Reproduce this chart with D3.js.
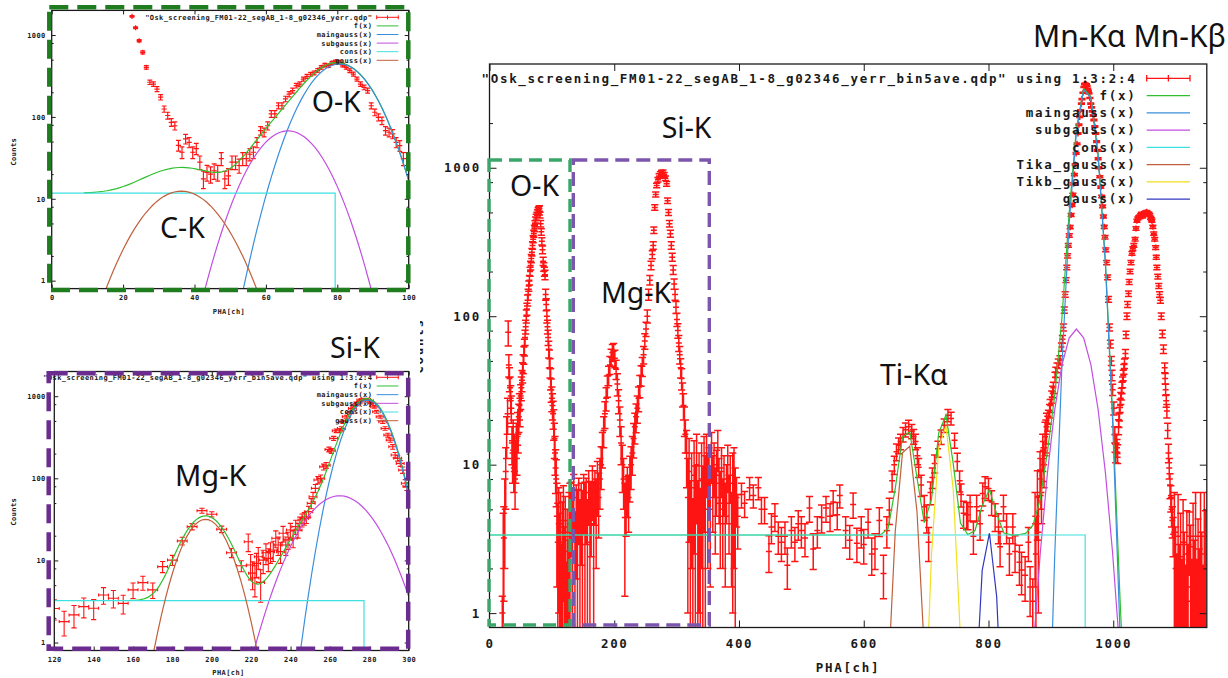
<!DOCTYPE html>
<html><head><meta charset="utf-8">
<script src="https://cdn.jsdelivr.net/npm/d3@7"></script>
<style>
body{margin:0;background:#fff;}
svg{display:block;}
</style></head><body>
<svg id="c" width="1228" height="678"></svg>
<script>
// ---------- DATA ----------
// Panel A (top-left, O-K / C-K): [PHA ch, counts, y error]
const aData = [[22.5,1690,41],[23.5,1228,35],[24.5,852,29],[25.5,615,25],[26.5,403,20],[27.5,265,16],[28.5,252,16],[29.5,219,15],[30.5,174,13],[31.5,125,11],[32.5,104,10],[33.5,86,9.3],[34.5,78,8.8],[35.5,45,6.7],[36.5,37,6.1],[37.5,54,7.3],[38.5,49,7],[39.5,37,6.1],[40.5,41,6.4],[41.5,28,5.3],[42.5,17.5,4.2],[43.5,21,4.6],[44.5,20,4.5],[45.5,22,4.7],[46.5,21,4.6],[47.5,31,5.6],[48.5,17.5,4.2],[49.5,19,4.4],[50.5,28,5.3],[51.5,28,5.3],[52.5,25.5,5],[53.5,31,5.6],[54.5,31,5.6],[55.5,35,5.9],[56.5,37,6.1],[57.5,49,7],[58.5,68,8.2],[59.5,65,8.1],[60.5,78,8.8],[61.5,109,10.4],[62.5,109,10.4],[63.5,137,11.7],[64.5,137,11.7],[65.5,166,12.9],[66.5,190,13.8],[67.5,210,14.5],[68.5,241,15.5],[69.5,252,15.9],[70.5,290,17],[71.5,313,17.7],[72.5,332,18.2],[73.5,345,18.6],[74.5,371,19.3],[75.5,403,20],[76.5,430,20.7],[77.5,422,20.5],[78.5,456,21.4],[79.5,473,21.7],[80.5,465,21.6],[81.5,430,20.7],[82.5,403,20],[83.5,367,19.2],[84.5,334,18.3],[85.5,290,17],[86.5,252,15.9],[87.5,230,15.2],[88.5,210,14.5],[89.5,137,11.7],[90.5,114,10.7],[91.5,99,9.9],[92.5,90,9.5],[93.5,68,8.2],[94.5,65,8.1],[95.5,62,7.9],[96.5,49,7],[97.5,44.6,6.7],[98.5,31,5.6],[99.5,31,5.6]];
// Panel A fit components [amplitude, centre, sigma]
const aMain = [443, 80.6, 7.57];
const aSub = [67.6, 66.2, 7.8];
const aGauss = [12.4, 36.3, 9.0];
const aCons = [11.7, 79.4];      // level, end channel

// Panel B (bottom-left, Mg-K / Si-K)
const bCoarse = [[120,2.6,0.72],[125,1.8,0.6],[130,2.17,0.66],[135,2.74,0.74],[140,2.62,0.72],[145,3.8,0.87],[150,3.47,0.83],[155,3.0,0.77],[160,4.38,0.94],[165,5.37,1.04],[170,4.38,0.94],[175,8.4,1.3],[180,10.1,1.42],[185,17.3,1.86],[190,25.8,2.27],[195,40.4,2.84],[200,36.5,2.7],[205,24,2.19],[210,12.4,1.57],[215,8.6,1.31]];
const bFine = [[218.5,16.9,4.1],[219.7,8.8,3],[220.7,7,2.6],[221.9,6.1,2.5],[222.7,9.2,3],[223.6,11.1,3.3],[224.8,5.4,2.3],[226.1,10.1,3.2],[227.5,12.4,3.5],[228.7,10.6,3.3],[229.8,12.8,3.6],[231.2,13.4,3.7],[232.5,18.6,4.3],[233.7,15.4,3.9],[234.9,12.8,3.6],[236.2,21.4,4.6],[237.6,15.4,3.9],[238.7,17.8,4.2],[239.9,23.5,4.8],[241.3,18.6,4.3],[242.6,25.8,5.1],[243.8,23.5,4.8],[244.7,28.4,5.3],[245.8,31.1,5.6],[247,32.5,5.7],[248,34,5.8],[249.2,39.3,6.3],[250.5,49.6,7],[251.4,59.7,7.7],[252.6,75.5,8.7],[253.9,95.3,9.8],[255.3,100,10],[256.8,138,11.7],[258.1,144,12],[259.5,225,15],[260.7,216,14.7],[261.9,307,17.5],[263.2,380,19.5],[264.6,380,19.5],[265.8,405,20.1],[266.6,488,22.1],[268.3,563,23.7],[270,629,25.1],[271.4,710,26.6],[272.8,780,27.9],[274.3,832,28.8],[275.7,897,30],[277.2,910,30.2],[278.6,910,30.2],[280,880,29.7],[281.2,817,28.6],[282.5,743,27.3],[283.7,646,25.4],[285.5,563,23.7],[286.8,488,22.1],[288,405,20.1],[289.4,336,18.3],[290.6,292,17.1],[291.9,242,15.6],[293.1,192,13.9],[294.4,175,13.2],[295.7,152,12.3],[296.9,126,11.2],[298.3,87,9.3],[299.1,80,8.9]];
const bMain = [897, 279.0, 9.06];
const bSub = [61.4, 264.9, 14.76];
const bGauss = [31.7, 196.8, 9.66];
const bCons = [3.24, 277.3];

// Panel R (right, full spectrum)
const rOK = [[20.5,1.0,0.3],[22,2.0,2.7],[23,3.2,2],[24.5,5,3],[26,9,4],[27.5,16,5],[29,22,6],[30,78,15],[31,47,8],[32,38,7],[33,33,6],[34,28,6],[35,24,5],[36,14,4],[37,11,3.5],[38,16,4],[39,9.5,3],[40,12.5,3.5],[41,8,3],[42,11,3.5],[43,15,4],[44,12,3.5],[45,18,4.5],[46,16,4],[47,21,4.5],[48,25,5],[49,23,5],[50,29,5.5],[51,33,6],[52,37,6],[53,42,6.5],[54,48,7],[55,55,7.5],[56,62,8],[57,72,8.5],[58,85,9],[59,100,10],[60,112,10.5],[61,128,11],[62,140,12],[63,160,12.5],[64,175,13],[65,200,14],[66,220,15],[67,245,15.5],[68,270,16],[69,300,17],[70,330,18],[71,360,19],[72,390,19.5],[73,420,20],[74,445,21],[75,465,21.5],[76,480,22],[77,500,22],[78,515,23],[79,525,23],[80,532,23],[81,480,22],[82,420,20.5],[83,370,19],[84,320,18],[85,280,17],[86,235,15],[87,215,14.5],[88,200,14],[89,190,14],[90,140,12],[91,120,11],[92,100,10],[93,85,9],[94,72,8.5],[95,60,7.7],[96,52,7.2],[97,45,6.7],[98,38,6.2],[99,32,5.7],[100,28,5.3],[101,25,5],[102,22,4.7],[103,19,4.4],[104,15,4],[105,12,3.5],[106,9.5,3.1],[107,8,2.8]];
const rLow = [[108,4.5,3],[109.5,3,2.5],[111,4,3],[112.5,2.5,2.2],[114,3.5,3],[115.5,1.5,1.4],[117,3,2.6],[118.5,4.2,3],[120,2,1.8],[121.5,3.3,2.8],[123,1.2,1],[124.5,2.6,2.4],[126,1.6,1.5],[127.5,3.5,3],[129,4,3.5],[131,5,2.6],[133,3.5,3.2],[135,6,2.6],[137,2.5,2.3],[139,4.5,2.8],[141,3.5,3.3],[143,5.5,2.6],[145,3,2.8],[147,4.8,2.7],[149,3.5,3.2],[151,6,2.6],[153,4,3.6],[155,5.5,2.6],[157,3,2.8],[159,6.5,2.6],[161,4,3.7],[163,5,2.6],[165,7,2.8],[167,4,3.7],[169,6.5,2.6],[171,5,3],[173,7.5,3],[175,6,2.8]];
const rMgSi = [[177,8,3],[179,10,3.2],[181,13,3.5],[183,17,4],[185,22,4.5],[187,28,5],[189,34,5.5],[191,40,6],[193,47,6.5],[195,53,7],[197,57,7.5],[199,58,7.5],[201,52,7],[203,44,6.5],[205,35,6],[207,27,5],[209,20,4.5],[211,14,4],[213,10,3.5],[215,8,3],[217,4.4,3.1],[219,5.8,2.5],[221,7,2.6],[223,6,2.5],[225,8.5,2.9],[227,10,3.2],[229,12,3.5],[231,15,3.9],[233,18,4.2],[235,21,4.6],[237,24,5],[239,28,5.3],[241,34,5.8],[243,40,6.3],[245,46,6.8],[247,55,7.4],[249,68,8.2],[251,82,9],[253,100,10],[255,140,11.8],[257,175,13],[259,220,14.8],[261,260,16],[262.5,300,17],[263.5,380,19.5],[265,540,23],[266.5,660,25.7],[268,760,27.5],[270,830,28.8],[272,880,29.6],[274,910,30],[276,930,30.5],[278,935,30.5],[280,900,30],[282,850,29],[284,780,28],[285.5,600,24.5],[287,500,22.4],[288.5,420,20.5],[290,360,19],[291.5,300,17.3],[293,250,15.8],[294.5,205,14.3],[296,165,12.8],[297.5,140,11.8],[299,115,10.7],[300.5,95,9.7],[302,80,9],[303.5,66,8.1],[305,55,7.4],[306.5,45,6.7],[308,38,6.2],[309.5,30,5.5],[311,25,5],[312.5,20,4.5],[314,16,4]];
const rNoise = [[316,12,5],[318,6,5],[320,9,6],[322,4,3.8],[324,7,5],[326,3,2.9],[328,8.5,6],[330,5,4.8],[332,10,6],[334,4,3.8],[336,6.5,5.5],[338,3.5,3.4],[340,8,6],[342,5,4.8],[344,9.5,6],[346,6,5.5],[348,11,5],[350,7,5],[352,9,4],[354,5,3.5],[356,12,4.5],[358,7.5,4],[360,10,4],[362,6,3.5],[364,8.5,4],[366,13,4],[368,7.5,3.5],[370,5.5,3.5],[372,9.5,3.5],[374,5,3],[376,8,3.5],[378,4.5,3],[380,7,3],[382,10,3.5],[384,5.5,3],[386,8.5,3],[388,4,2.5],[390,6.5,5.5],[392,7.5,5.5],[394,5,4.5],[396,6,2.2],[398,4.5,1.8]];
const rMid = [[404,6.3,1.2],[409,5.5,1.1],[417,7.0,1.2],[423,6.2,1.1],[431,7.0,1.2],[436,5.0,1.0],[441,5.0,1.0],[448,2.6,0.72],[452,3.8,0.87],[457.6,4.5,0.95],[463,3.3,0.81],[468,3.0,0.77],[473.7,3.3,0.81],[477.5,2.1,0.65],[484,3.6,0.85],[489.6,3.0,0.77],[495,4.0,0.9],[500,3.6,0.85],[505.8,3.2,0.8],[513,5.1,1.0],[519,2.7,0.73],[525.6,3.6,0.85],[532.5,4.4,0.94],[539.5,5.1,1.0],[546,4.5,0.95],[551,5.6,1.06],[557.5,4.6,0.96],[561.6,6.2,1.1],[571,3.6,0.85],[577.5,3.1,0.79],[583,5.4,1.04],[589,2.96,0.77],[596,3.6,0.85],[600,2.9,0.76],[607,4.1,0.9],[612.8,2.5,0.7],[618,2.7,0.73],[625,4.2,0.92],[631.6,1.85,0.6]];
const rTi = [[637,3.6,0.85],[641,4.95,1.0],[645.5,7.8,1.25],[649,10,1.4],[652.5,12.2,1.56],[656,13.5,1.64],[659,14.3,1.7],[663,16,1.8],[667,17.2,1.85],[672,18,1.9],[677,16.8,1.83],[680,15.5,1.76],[683,14.3,1.7],[686,11.5,1.5],[688,9.6,1.4],[692,7.3,1.2],[697,5.2,1.0],[701,4.4,0.94],[704,3.0,0.77],[707,6.5,1.14],[710,8.2,1.28],[713.6,10.2,1.43],[719,12.8,1.6],[724,15.4,1.75],[729,18.4,1.92],[735,21.5,2.07],[740,20.5,2.02],[745.6,14.6,1.7],[750,10.5,1.45],[753.7,7.8,1.25],[756,6.3,1.12],[760,4.7,0.97],[765,4.6,0.96],[767,4.6,0.96],[770.5,5.2,1.02],[775.8,3.3,0.81],[781,5.2,1.02],[786.5,4.0,0.9],[790.7,6.4,1.13],[794.5,7.1,1.19],[800,6.9,1.17],[805,5.6,1.06],[810.6,4.5,0.95],[816,3.8,0.87],[818.6,2.8,0.75],[824,5.2,1.02],[829,3.8,0.87],[833.5,2.5,0.7],[839,3.8,0.87],[842.6,2.6,0.72],[849.6,2.2,0.66],[853,1.95,0.62],[858.7,1.8,0.6],[864,3.0,0.77],[866.7,1.5,0.55],[871,1.2,0.5]];
const rMn = [[874.7,4.0,2.5],[876,2.5,2],[878.4,6.1,3],[880,3.5,2.5],[882.6,9.2,3],[885,6.5,2.5],[887,12.5,3.5],[889,10,3],[890.7,15.4,3.9],[893,18,4.2],[896,21,2.3],[899,25,2.5],[901.4,28.6,2.7],[904,33,2.9],[906.7,38.8,3.1],[910,45,3.4],[914.6,50.6,3.6],[917,62,3.9],[920,84,4.6],[923,140,5.9],[925.6,213,7.3],[928,300,8.7],[931,398,10],[934,560,11.8],[936.6,780,14],[939,1050,16.2],[942,1450,19],[945,1950,22],[947.6,2430,24.6],[950,2900,27],[953,3500,29.6],[955,3700,30.4],[957,3650,30],[959,3400,29],[961,3170,28],[964,2700,26],[966.5,2400,24.5],[969,2100,23],[972,1700,20.6],[974.5,1310,18],[977,1000,15.8],[980,740,13.6],[983,550,11.7],[985.6,400,10],[988,280,8.4],[991,183,6.8],[994,84,4.6],[997,50,3.5],[999,32,2.8],[1001,24,2.4],[1002.5,16,2],[1004,12,1.7],[1005.5,14,1.9],[1007,11.9,1.7],[1008.5,18,2.1],[1010,22,2.3],[1012,28,2.6],[1014,33,2.9],[1016,40,3.2],[1018,48,3.5],[1019.5,56,3.7],[1022,100,5],[1024.5,142,6],[1027,200,7],[1030,265,8],[1033,300,8.7],[1035,330,9],[1038,440,10.5],[1041,465,10.8],[1044,480,11],[1047,470,10.8],[1050,490,11],[1053.7,505,11.2],[1057,490,11],[1060,460,10.7],[1062,440,10.5],[1065,360,9.5],[1068,290,8.5],[1070,213,7.3],[1073,160,6.3],[1075.6,128,5.7],[1078.8,76,4.4],[1082.5,45,3.4],[1084,32,2.8],[1086,23,2.4],[1088.6,12,1.7],[1091,7.3,1.4],[1093.5,5,1.2],[1096,3.4,1]];
// additional points read on the steep Mn flanks
const rMnFlank = [[884,8,3],[888,11,3.3],[892,16,4],[895,19,2.2],[898,23,2.4],[903,31,2.8],[908,42,3.3],[912,48,3.5],[918.5,70,4.2],[921.5,110,5.2],[924.3,175,6.6],[926.8,255,8],[929.5,350,9.4],[932.5,480,11],[935.3,660,12.8],[937.8,900,15],[940.5,1250,17.7],[943.5,1700,20.6],[946.3,2200,23.5],[949,2700,26],[951.5,3200,28.3],[954,3650,30],[958,3550,29.8],[960,3300,28.7],[962.5,2950,27.2],[965.3,2550,25],[967.8,2250,23.7],[970.5,1900,21.8],[973.3,1500,19.4],[975.8,1150,17],[978.5,870,14.7],[981.5,640,12.6],[984.3,470,10.8],[986.8,340,9.2],[989.5,230,7.6],[992.5,130,5.7],[995.5,65,4],[998,40,3.2],[1003,14,1.9],[1006,13,1.8],[1009,20,2.2],[1011,25,2.5],[1013,30,2.7],[1015,36,3],[1017,44,3.3],[1020.5,75,4.3],[1023,120,5.5],[1025.5,170,6.5],[1028.5,230,7.6],[1031.5,285,8.4],[1036.5,390,9.9],[1039.5,455,10.7],[1042.5,470,10.8],[1045.5,490,11],[1048.5,480,11],[1052,500,11.2],[1055.5,495,11.1],[1058.5,480,11],[1061,450,10.6],[1063.5,400,10],[1066.5,330,9.1],[1069,250,7.9],[1071.5,185,6.8],[1074.3,140,5.9],[1077,100,5],[1080.5,60,3.9],[1083.2,38,3.1],[1085,27,2.6],[1087.3,17,2],[1089.8,9.5,1.5],[1092.3,6,1.2],[1094.8,4.2,1.0]];
const rTail = [[1098,3.5,3],[1100,2.0,1.8],[1102,1.3,1.2],[1104,3.3,3],[1106,1.5,1.4],[1108,2.4,2.3],[1110,1.2,1.1],[1112,3.0,2.8],[1114,1.8,1.7],[1116,1.1,1],[1118,2.5,2.4],[1120,1.5,1.4],[1122,3.3,1.5],[1124,2.0,1.9],[1126,1.2,1.1],[1128,2.8,2.7],[1130,1.6,1.5],[1132,3.3,3.2],[1134,1.2,1.1],[1136,2.2,2.1],[1138,1.4,1.3],[1140,3.3,3.2],[1142,1.8,1.7],[1144,1.1,1],[1146,3.3,3.2],[1148,2.5,2.4]];
const rMain = [3500, 956.5, 13.2];
const rSub = [82, 941, 22];
const rTika = [14.6, 669, 11];
const rTikb = [19, 729, 10.1];
const rGauss = [3.5, 800, 9.3];
const rCons = [3.36, 955];

// tick labels
const aXT = [0,20,40,60,80,100];
const bXT = [120,140,160,180,200,220,240,260,280,300];
const rXT = [0,200,400,600,800,1000];
const yMajor = [1,10,100,1000];
const yMinor = [2,5,8,20,50,80,200,500,800,2000];

const legendA = ['"Osk_screening_FM01-22_segAB_1-8_g02346_yerr.qdp"','f(x)','maingauss(x)','subgauss(x)','cons(x)','gauss(x)'];
const legendB = ['"Osk_screening_FM01-22_segAB_1-8_g02346_yerr_bin5ave.qdp" using 1:3:2:4','f(x)','maingauss(x)','subgauss(x)','cons(x)','gauss(x)'];
const legendR = ['"Osk_screening_FM01-22_segAB_1-8_g02346_yerr_bin5ave.qdp" using 1:3:2:4','f(x)','maingauss(x)','subgauss(x)','cons(x)','Tika_gauss(x)','Tikb_gauss(x)','gauss(x)'];

const C = {data:"#ff1414", f:"#2ec02e", main:"#3a8fdc", sub:"#c24ee0", cons:"#3ee0e0", tika:"#c0603c", tikb:"#f0e020", gauss:"#3038c0"};

// ---------- DRAWING ----------
const svg = d3.select("#c");
svg.append("rect").attr("width",1228).attr("height",678).attr("fill","#fff");
const defs = svg.append("defs");
const G = (p, v) => p[0]*Math.exp(-((v-p[1])**2)/(2*p[2]*p[2]));

function makePanel(cfg){
  const x = d3.scaleLinear().domain(cfg.xd).range([cfg.L, cfg.R]);
  const y = d3.scaleLog().domain(cfg.yd).range([cfg.B, cfg.T]);
  const id = "clip-"+cfg.id;
  defs.append("clipPath").attr("id", id).append("rect")
    .attr("x", cfg.L).attr("y", cfg.T).attr("width", cfg.R-cfg.L).attr("height", cfg.B-cfg.T);
  const g = svg.append("g");
  const plot = g.append("g").attr("clip-path", `url(#${id})`);
  return {x, y, g, plot, cfg};
}
function font(sel, cfg){
  sel.attr("font-family","'DejaVu Sans Mono', monospace").attr("font-weight","bold")
     .attr("font-size", cfg.fs).style("letter-spacing", cfg.ls+"px").attr("color","#1a1a1a").attr("fill","#1a1a1a");
}
function axes(P){
  const {x,y,g,cfg} = P;
  const clean = s => s.select(".domain").remove();
  const minor = yMinor.filter(v => v > cfg.yd[0] && v < cfg.yd[1]);
  g.append("g").attr("transform",`translate(${cfg.L},0)`)
    .call(d3.axisLeft(y).tickValues(yMajor).tickFormat(d3.format("d")).tickSizeInner(-cfg.maj).tickSizeOuter(0).tickPadding(cfg.ypad))
    .call(clean).call(s => font(s, cfg));
  g.append("g").attr("transform",`translate(${cfg.L},0)`)
    .call(d3.axisLeft(y).tickValues(minor).tickFormat("").tickSizeInner(-cfg.mnr).tickSizeOuter(0))
    .call(clean).attr("color","#1a1a1a");
  g.append("g").attr("transform",`translate(${cfg.R},0)`)
    .call(d3.axisRight(y).tickValues(yMajor).tickFormat("").tickSizeInner(-cfg.maj).tickSizeOuter(0))
    .call(clean).attr("color","#1a1a1a");
  g.append("g").attr("transform",`translate(${cfg.R},0)`)
    .call(d3.axisRight(y).tickValues(minor).tickFormat("").tickSizeInner(-cfg.mnr).tickSizeOuter(0))
    .call(clean).attr("color","#1a1a1a");
  g.append("g").attr("transform",`translate(0,${cfg.B})`)
    .call(d3.axisBottom(x).tickValues(cfg.xt).tickFormat(d3.format("d")).tickSizeInner(-cfg.maj).tickSizeOuter(0).tickPadding(cfg.xpad))
    .call(clean).call(s => font(s, cfg));
  g.append("g").attr("transform",`translate(0,${cfg.T})`)
    .call(d3.axisTop(x).tickValues(cfg.xt).tickFormat("").tickSizeInner(-cfg.maj).tickSizeOuter(0))
    .call(clean).attr("color","#1a1a1a");
  g.append("rect").attr("x",cfg.L).attr("y",cfg.T).attr("width",cfg.R-cfg.L).attr("height",cfg.B-cfg.T)
    .attr("fill","none").attr("stroke","#1a1a1a").attr("stroke-width",1.3);
  g.append("text").attr("x",cfg.xlab[0]).attr("y",cfg.xlab[1]).attr("dy","0.35em").attr("text-anchor","middle")
    .call(s=>font(s,cfg)).text("PHA[ch]");
  const yl = g.append("g");
  if (cfg.ylabClip) {
    defs.append("clipPath").attr("id","ylc-"+cfg.id).append("rect").attr("x",cfg.ylabClip).attr("y",0).attr("width",100).attr("height",678);
    yl.attr("clip-path",`url(#ylc-${cfg.id})`);
  }
  yl.append("text").attr("transform",`translate(${cfg.ylab[0]},${cfg.ylab[1]}) rotate(-90)`).attr("dy","0.35em")
    .attr("text-anchor","middle").call(s=>font(s,cfg)).text("Counts");
}
function points(P, data, o){
  const {x,y,cfg} = P;
  let d = "";
  const below = cfg.B + 40;
  for (const [xv,yv,e] of data){
    const px = x(xv), py = y(yv);
    const hi = y(yv+e);
    const lo = (yv-e) > 0.05 ? y(yv-e) : below;
    d += `M${px},${hi}V${lo}M${px-o.cap},${hi}h${2*o.cap}`;
    if (lo < below) d += `M${px-o.cap},${lo}h${2*o.cap}`;
    if (o.dx){
      const x0 = x(xv-o.dx), x1 = x(xv+o.dx);
      d += `M${x0},${py}H${x1}M${x0},${py-o.xcap}v${2*o.xcap}M${x1},${py-o.xcap}v${2*o.xcap}`;
    }
    d += `M${px-o.m},${py}h${2*o.m}M${px},${py-o.m}v${2*o.m}`;
  }
  P.plot.append("path").attr("d",d).attr("fill","none").attr("stroke",C.data).attr("stroke-width",o.sw);
}
function curve(P, fn, x0, x1, n, color, sw){
  const pts = d3.range(n).map(i => { const v = x0 + i*(x1-x0)/(n-1); return [v, Math.max(fn(v), 1e-30)]; });
  P.plot.append("path").attr("d", d3.line().x(d=>P.x(d[0])).y(d=>P.y(d[1]))(pts))
    .attr("fill","none").attr("stroke",color).attr("stroke-width",sw||1.2);
}
function consLine(P, c, x0, sw){
  const pts = [[x0, c[0]],[c[1], c[0]],[c[1], 0.01]];
  P.plot.append("path").attr("d", d3.line().x(d=>P.x(d[0])).y(d=>P.y(d[1]))(pts))
    .attr("fill","none").attr("stroke",C.cons).attr("stroke-width",sw||1.2);
}
function legend(P, labels, colors, L){
  labels.forEach((t,i)=>{
    const yy = L.y0 + i*L.dy;
    P.g.append("text").attr("x",L.tx).attr("y",yy).attr("dy","0.35em").attr("text-anchor","end")
      .call(s=>font(s,P.cfg)).text(t);
    if (i===0){
      const h = L.cap;
      P.g.append("path").attr("d",`M${L.s0},${yy}H${L.s1}M${L.s0},${yy-h}v${2*h}M${L.s1},${yy-h}v${2*h}M${(L.s0+L.s1)/2},${yy-h}v${2*h}`)
        .attr("stroke",C.data).attr("stroke-width",L.sw).attr("fill","none");
    } else {
      P.g.append("line").attr("x1",L.s0).attr("x2",L.s1).attr("y1",yy).attr("y2",yy)
        .attr("stroke",colors[i]).attr("stroke-width",L.sw);
    }
  });
}
function dashRect(r, color, w, dash){
  svg.append("rect").attr("x",r[0]).attr("y",r[1]).attr("width",r[2]).attr("height",r[3])
    .attr("fill","none").attr("stroke",color).attr("stroke-width",w).attr("stroke-dasharray",dash);
}
function ann(t, x, y, size){
  svg.append("text").attr("x",x).attr("y",y).attr("font-family","'Noto Sans','Open Sans',sans-serif")
    .attr("font-size",size).attr("fill","#111").text(t);
}

// ---- Panel A ----
const A = makePanel({id:"A", xd:[0,100], yd:[0.8,2000], L:51.7, R:408.7, T:10.4, B:288.6,
  fs:7, ls:0.42, maj:4, mnr:2, ypad:6, xpad:6.5, xt:aXT, xlab:[229,311.5], ylab:[13.5,151.7]});
axes(A);
points(A, aData, {cap:2.4, m:2.6, sw:1.2});
curve(A, v => aCons[0]*(v<aCons[1]?1:0) + G(aGauss,v) + G(aSub,v) + G(aMain,v), 9, 100, 100, C.f);
curve(A, v => G(aMain,v), 0, 100, 100, C.main);
curve(A, v => G(aSub,v), 0, 100, 100, C.sub);
consLine(A, aCons, 0);
curve(A, v => G(aGauss,v), 0, 100, 100, C.tika);
legend(A, legendA, [null,C.f,C.main,C.sub,C.cons,C.tika], {tx:372.3, y0:17.3, dy:8.6, s0:376.7, s1:398.3, cap:2, sw:1});

// ---- Panel B ----
const B = makePanel({id:"B", xd:[120,300], yd:[0.8,2000], L:54.3, R:408.7, T:371.5, B:650.5,
  fs:7, ls:0.42, maj:4, mnr:2, ypad:8.6, xpad:6.5, xt:bXT, xlab:[228.5,672.7], ylab:[13.5,511.7]});
axes(B);
points(B, bCoarse, {cap:2.6, m:1.8, sw:1.1, dx:2.5, xcap:1.5});
points(B, bFine, {cap:2.6, m:1.8, sw:1.1, dx:2, xcap:1.5});
curve(B, v => bCons[0]*(v<bCons[1]?1:0) + G(bGauss,v) + G(bSub,v) + G(bMain,v), 157.6, 300, 100, C.f);
curve(B, v => G(bMain,v), 120, 300, 100, C.main);
curve(B, v => G(bSub,v), 120, 300, 100, C.sub);
consLine(B, bCons, 120);
curve(B, v => G(bGauss,v), 120, 300, 100, C.tika);
legend(B, legendB, [null,C.f,C.main,C.sub,C.cons,C.tika], {tx:372.3, y0:377.3, dy:8.68, s0:376.7, s1:398.3, cap:2, sw:1});

// ---- Panel R ----
const R = makePanel({id:"R", xd:[0,1150], yd:[0.8,5000], L:489.5, R:1206.8, T:64, B:627.5,
  fs:12.5, ls:1.7, maj:7, mnr:3.5, ypad:8.6, xpad:12, xt:rXT, xlab:[848,668], ylab:[419,346], ylabClip:420});
axes(R);
[rOK, rLow, rMgSi, rNoise, rMid, rTi, rMn, rMnFlank, rTail].forEach(s => points(R, s, {cap:3.6, m:3, sw:1.5, dx:2.5, xcap:0}));
const rF = v => rCons[0]*(v<rCons[1]?1:0) + G(rMain,v) + G(rSub,v) + G(rTika,v) + G(rTikb,v) + G(rGauss,v);
curve(R, rF, 0, 1150, 100, C.f);
curve(R, v => G(rMain,v), 0, 1150, 100, C.main);
curve(R, v => G(rSub,v), 0, 1150, 100, C.sub);
consLine(R, rCons, 0);
curve(R, v => G(rTika,v), 0, 1150, 100, C.tika);
curve(R, v => G(rTikb,v), 0, 1150, 100, C.tikb);
curve(R, v => G(rGauss,v), 0, 1150, 100, C.gauss);
legend(R, legendR, [null,C.f,C.main,C.sub,C.cons,C.tika,C.tikb,C.gauss], {tx:1136.5, y0:78.3, dy:17.25, s0:1146.7, s1:1190, cap:3.3, sw:1.3});

// ---- highlight boxes ----
dashRect([49.3,7.3,359,282.7], "#1f7d1f", 4.5, "19 9");
dashRect([48.7,373.3,359.5,275.5], "#6a2c8e", 4.5, "19 9");
dashRect([489,160,81,465], "#3aa66a", 3.4, "13 7");
dashRect([573.3,160,136,465], "#7c55ad", 3.4, "14 7");

// ---- annotations ----
ann("O-K", 311.7, 111.7, 28.5);
ann("C-K", 160, 238.3, 28.5);
ann("Si-K", 330, 358, 28.5);
ann("Mg-K", 175, 485.7, 29);
ann("Mn-Kα Mn-Kβ", 1033, 46.7, 30);
ann("Si-K", 661.7, 138.3, 28.5);
ann("O-K", 510, 196, 28.5);
ann("Mg-K", 601, 303.3, 28.5);
ann("Ti-Kα", 880, 385, 28.5);
</script></body></html>
